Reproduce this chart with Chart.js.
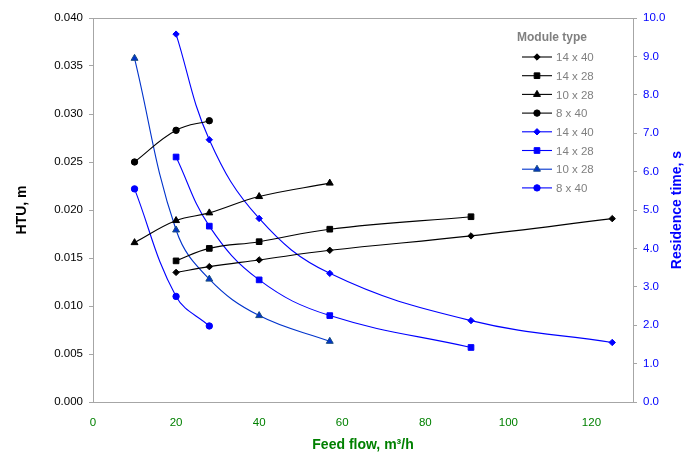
<!DOCTYPE html>
<html>
<head>
<meta charset="utf-8">
<script src="https://cdn.jsdelivr.net/npm/chart.js@4.4.1/dist/chart.umd.min.js"></script>
<style>
  body { margin: 0; background: #fff; }
  #wrap { width: 694px; height: 460px; }
</style>
</head>
<body>
<div id="wrap"><canvas id="myChart"></canvas></div>
<script>
// feed flow, m3/h
var flow40_14 = [20, 28, 40, 57, 91, 125];
var flow28_14 = [20, 28, 40, 57, 91];
var flow28_10 = [10, 20, 28, 40, 57];
var flow40_8 = [10, 20, 28];

// HTU, m
var htu14x40 = [0.0135, 0.0141, 0.0148, 0.0158, 0.0173, 0.0191];
var htu14x28 = [0.0147, 0.0160, 0.0167, 0.0180, 0.0193];
var htu10x28 = [0.0166, 0.0189, 0.0197, 0.0214, 0.0228];
var htu8x40 = [0.0250, 0.0283, 0.0293];

// residence time, s
var res14x40 = [9.58, 6.83, 4.78, 3.35, 2.12, 1.55];
var res14x28 = [6.38, 4.58, 3.18, 2.25, 1.42];
var res10x28 = [8.95, 4.48, 3.20, 2.25, 1.58];
var res8x40 = [5.55, 2.75, 1.98];

var moduleLabels = ['14 x 40', '14 x 28', '10 x 28', '8 x 40'];
var xTicks = [0, 20, 40, 60, 80, 100, 120];

function pts(xs, ys) {
    return xs.map(function (x, i) { return { x: x, y: ys[i] }; });
}

function series(label, xs, ys, color, shape, size, axis, edge) {
    return {
        label: label,
        data: pts(xs, ys),
        yAxisID: axis,
        borderColor: color,
        backgroundColor: color,
        pointBorderColor: edge || color,
        pointBackgroundColor: color,
        pointStyle: shape,
        pointRadius: size,
        pointBorderWidth: 1,
        borderWidth: 1.1,
        tension: 0.4,
        fill: false
    };
}

var legendBox = {
    id: 'legendBox',
    beforeDraw: function (chart) {
        var a = chart.chartArea, c = chart.ctx;
        c.save();
        c.strokeStyle = '#a6a6a6';
        c.lineWidth = 1;
        c.strokeRect(a.left + 0.5, a.top + 0.5, a.right - a.left, a.bottom - a.top);
        c.restore();
    },
    afterDraw: function (chart) {
        var c = chart.ctx, a = chart.chartArea;
        var x0 = 522, y0 = 38;
        c.save();
        // right axis title, reading bottom to top
        c.fillStyle = '#0000ff';
        c.font = 'bold 14px "Liberation Sans", Arial';
        c.textAlign = 'center';
        c.textBaseline = 'middle';
        c.translate(677, (a.top + a.bottom) / 2);
        c.rotate(-Math.PI / 2);
        c.fillText('Residence time, s', 0, 0);
        c.restore();

        c.save();
        c.fillStyle = '#808080';
        c.font = 'bold 12px "Liberation Sans", Arial';
        c.textBaseline = 'middle';
        c.fillText('Module type', 517, y0);
        c.font = '11.5px "Liberation Sans", Arial';
        chart.data.datasets.forEach(function (ds, i) {
            var y = y0 + 19 + i * 18.7;
            c.strokeStyle = ds.borderColor;
            c.lineWidth = 1.1;
            c.beginPath();
            c.moveTo(x0, y);
            c.lineTo(x0 + 30, y);
            c.stroke();
            c.fillStyle = ds.pointBackgroundColor;
            c.strokeStyle = ds.pointBorderColor;
            c.lineWidth = 1;
            Chart.helpers.drawPoint(c, { pointStyle: ds.pointStyle, radius: ds.pointRadius, rotation: 0, borderWidth: 1 }, x0 + 15, y);
            c.fillStyle = '#808080';
            c.fillText(ds.label, x0 + 34, y + 1);
        });
        c.restore();
    }
};

var ctx = document.getElementById('myChart').getContext('2d');
var myChart = new Chart(ctx, {
    type: 'line',
    data: {
        datasets: [
            series(moduleLabels[0], flow40_14, htu14x40, '#000000', 'rectRot', 3.2, 'y'),
            series(moduleLabels[1], flow28_14, htu14x28, '#000000', 'rect', 4, 'y'),
            series(moduleLabels[2], flow28_10, htu10x28, '#000000', 'triangle', 4, 'y'),
            series(moduleLabels[3], flow40_8, htu8x40, '#000000', 'circle', 3.2, 'y'),
            series(moduleLabels[0], flow40_14, res14x40, '#0000ff', 'rectRot', 3.2, 'y2'),
            series(moduleLabels[1], flow28_14, res14x28, '#0000ff', 'rect', 4, 'y2'),
            series(moduleLabels[2], flow28_10, res10x28, '#0033cc', 'triangle', 4, 'y2', '#1a4d80'),
            series(moduleLabels[3], flow40_8, res8x40, '#0000ff', 'circle', 3.2, 'y2')
        ]
    },
    plugins: [legendBox],
    options: {
        responsive: true,
        maintainAspectRatio: false,
        animation: false,
        layout: { padding: { left: 10, right: 8, top: 18, bottom: 2 } },
        plugins: { legend: { display: false }, tooltip: { enabled: false } },
        scales: {
            x: {
                type: 'linear',
                min: 0,
                max: 130,
                afterBuildTicks: function (s) { s.ticks = xTicks.map(function (v) { return { value: v }; }); },
                grid: { display: false },
                border: { display: false },
                ticks: { color: '#008000', font: { family: '"Liberation Sans", Arial', size: 11.5 }, padding: 6, maxRotation: 0 },
                title: { display: true, text: 'Feed flow, m³/h', color: '#008000', font: { family: '"Liberation Sans", Arial', size: 14, weight: 'bold' }, padding: { top: 24 } },
                afterFit: function (s) { s.height = 56; }
            },
            y: {
                position: 'left',
                min: 0,
                max: 0.04,
                ticks: { stepSize: 0.005, color: '#000000', font: { family: '"Liberation Sans", Arial', size: 11.5 }, padding: 6,
                    callback: function (v) { return v.toFixed(3); } },
                grid: { drawOnChartArea: false, tickLength: 4, color: '#a6a6a6' },
                border: { display: false },
                title: { display: true, text: 'HTU, m', color: '#000000', font: { family: '"Liberation Sans", Arial', size: 14, weight: 'bold' } },
                afterFit: function (s) { s.width = 83; }
            },
            y2: {
                position: 'right',
                min: 0,
                max: 10,
                ticks: { stepSize: 1, color: '#0000ff', font: { family: '"Liberation Sans", Arial', size: 11.5 }, padding: 6,
                    callback: function (v) { return v.toFixed(1); } },
                grid: { drawOnChartArea: false, tickLength: 4, color: '#a6a6a6' },
                border: { display: false },
                title: { display: false },
                afterFit: function (s) { s.width = 53; }
            }
        }
    }
});
</script>
</body>
</html>
